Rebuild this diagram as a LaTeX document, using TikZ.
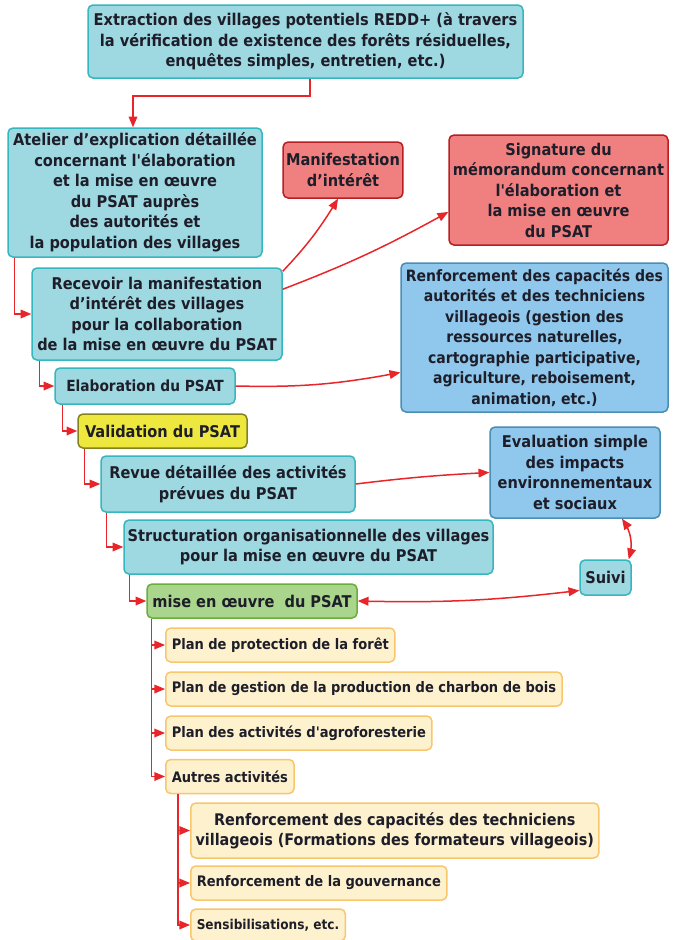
\documentclass[tikz,border=0pt]{standalone}
\usepackage{fontspec}
\setmainfont{DejaVu Sans Condensed}
\usetikzlibrary{arrows, positioning}
\definecolor{txtDark}{HTML}{1E1E2A}
\definecolor{tealFill}{HTML}{9ED8E1}
\definecolor{tealDraw}{HTML}{36B6BF}
\definecolor{redFill}{HTML}{F08080}
\definecolor{redDraw}{HTML}{B81E24}
\definecolor{blueFill}{HTML}{8FC8EC}
\definecolor{blueDraw}{HTML}{4A8EB4}
\definecolor{yelFill}{HTML}{EEE83E}
\definecolor{yelDraw}{HTML}{85821E}
\definecolor{greenFill}{HTML}{A9D68C}
\definecolor{greenDraw}{HTML}{6AAE3C}
\definecolor{leafFill}{HTML}{FDF1CE}
\definecolor{leafDraw}{HTML}{F8C66C}
\definecolor{linkRed}{HTML}{E8262A}
\tikzstyle{procBox}=[draw, rounded corners=5pt, line width=1.5pt, align=center,
  inner sep=3pt, text=txtDark, font=\fontsize{16.2}{20.5}\selectfont\bfseries]
\tikzstyle{smallText}=[font=\fontsize{14.5}{20}\selectfont\bfseries]
\tikzstyle{tealBox}=[procBox, fill=tealFill, draw=tealDraw]
\tikzstyle{redBox}=[procBox, fill=redFill, draw=redDraw]
\tikzstyle{blueBox}=[procBox, fill=blueFill, draw=blueDraw]
\tikzstyle{yelBox}=[procBox, fill=yelFill, draw=yelDraw]
\tikzstyle{greenBox}=[procBox, fill=greenFill, draw=greenDraw]
\tikzstyle{leafBox}=[procBox, smallText, fill=leafFill, draw=leafDraw, anchor=west,
  inner xsep=6pt, minimum height=34pt]
\tikzstyle{link}=[->, >=triangle 45, line width=1.5pt, draw=linkRed]

\begin{document}
\begin{tikzpicture}[x=1pt,y=-1pt]
  \useasboundingbox (0,0) rectangle (674,940);
  % main steps
  \node[tealBox, minimum width=435pt, minimum height=73pt] (extract) at (305.5,41.5)
    {Extraction des villages potentiels REDD+ (à travers\\
     la vérification de existence des forêts résiduelles,\\
     enquêtes simples, entretien, etc.)};
  \node[tealBox, minimum width=254pt, minimum height=129pt] (atelier) at (135,192.5)
    {Atelier d’explication détaillée\\ concernant l\textquotesingle élaboration\\
     et la mise en œuvre\\ du PSAT auprès\\ des autorités et\\ la population des villages};
  \node[redBox, minimum width=105pt, minimum height=56pt] (manif) at (343,170)
    {Manifestation\\ d’intérêt};
  \node[redBox, minimum width=219pt, minimum height=110pt] (signature) at (558.5,190)
    {Signature du\\ mémorandum concernant\\ l\textquotesingle élaboration et\\
     la mise en œuvre\\ du PSAT};
  \node[tealBox, minimum width=250pt, minimum height=92pt] (recevoir) at (157,314)
    {Recevoir la manifestation\\ d’intérêt des villages\\ pour la collaboration\\
     de la mise en œuvre du PSAT};
  \node[blueBox, minimum width=267pt, minimum height=149pt,
    font=\fontsize{15.6}{20.5}\selectfont\bfseries] (renfcap) at (534.5,337.5)
    {Renforcement des capacités des\\ autorités et des techniciens\\
     villageois (gestion des\\ ressources naturelles,\\ cartographie participative,\\
     agriculture, reboisement,\\ animation, etc.)};
  \node[tealBox, minimum width=180pt, minimum height=36pt,
    font=\fontsize{15.3}{20}\selectfont\bfseries] (elab) at (145,386)
    {Elaboration du PSAT};
  \node[yelBox, minimum width=169pt, minimum height=34pt] (valid) at (162.5,431)
    {Validation du PSAT};
  \node[blueBox, minimum width=170pt, minimum height=91pt] (evaluation) at (575,472.5)
    {Evaluation simple\\ des impacts\\ environnementaux\\ et sociaux};
  \node[tealBox, minimum width=254pt, minimum height=56pt] (revue) at (228,484)
    {Revue détaillée des activités\\ prévues du PSAT};
  \node[tealBox, minimum width=369pt, minimum height=54pt] (struct) at (308.5,547)
    {Structuration organisationnelle des villages\\ pour la mise en œuvre du PSAT};
  \node[tealBox, minimum width=51pt, minimum height=35pt] (suivi) at (605.5,577.5)
    {Suivi};
  \node[greenBox, minimum width=210pt, minimum height=34pt] (mise) at (252,601)
    {mise en œuvre\ \ du PSAT};
  % activities
  \node[leafBox] (protect) at (165,645) {Plan de protection de la forêt};
  \node[leafBox] (charbon) at (165,689) {Plan de gestion de la production de charbon de bois};
  \node[leafBox] (agro) at (165,733) {Plan des activités d\textquotesingle agroforesterie};
  \node[leafBox] (autres) at (165,776.5) {Autres activités};
  \node[leafBox, minimum height=55pt, minimum width=408pt, inner xsep=3pt,
    font=\fontsize{16}{20}\selectfont\bfseries] (techn) at (190,830.5)
    {Renforcement des capacités des techniciens\\
     villageois (Formations des formateurs villageois)};
  \node[leafBox] (gouv) at (190,883) {Renforcement de la gouvernance};
  \node[leafBox, minimum height=32pt, font=\fontsize{13.5}{20}\selectfont\bfseries]
    (sensib) at (190,925) {Sensibilisations, etc.};

  % connectors
  \draw[link] ([xshift=4.5pt]extract.south) -- ++(0,17) -| ([xshift=-2pt]atelier.north);
  \draw[link] ([xshift=7pt]atelier.south west) |- (recevoir.west);
  \draw[link] ([xshift=8pt]recevoir.south west) |- (elab.west);
  \draw[link] ([xshift=8pt]elab.south west) |- (valid.west);
  \draw[link] ([xshift=7pt]valid.south west) |- (revue.west);
  \draw[link] ([xshift=6pt]revue.south west) |- (struct.west);
  \draw[link] ([xshift=6pt]struct.south west) |- (mise.west);
  \foreach \leaf in {protect,charbon,agro,autres}
    \draw[link] ([xshift=5pt]mise.south west) |- (\leaf.west);
  \foreach \leaf in {techn,gouv,sensib}
    \draw[link] ([xshift=13pt]autres.south west) |- (\leaf.west);

  \draw[link] ([yshift=-4pt]recevoir.north east) to[bend right=6] ([xshift=-5pt]manif.south);
  \draw[link] ([yshift=-22pt]recevoir.north east) to[bend right=4] ([yshift=-22pt]signature.west);
  \draw[link] (elab.east) to[bend right=6] ([yshift=-35pt]renfcap.west);
  \draw[link] (revue.east) to[bend left=2] (evaluation.west);
  \draw[link, <->] ([xshift=47pt]evaluation.south) to[bend left=25] ([xshift=-3pt]suivi.north east);
  \draw[link, <->] (mise.east) to[bend right=4] ([yshift=-13pt]suivi.west);
\end{tikzpicture}
\end{document}
